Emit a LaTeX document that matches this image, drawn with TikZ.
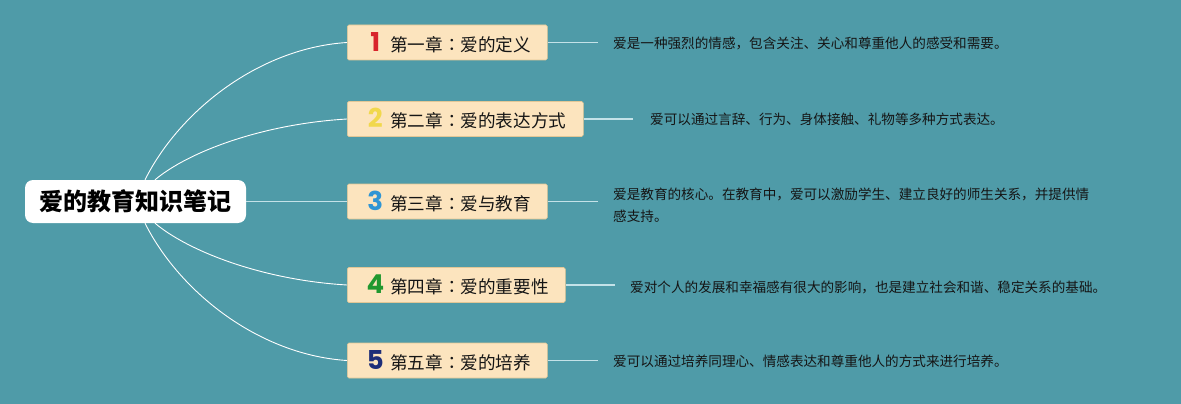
\documentclass[tikz,border=0pt]{standalone}
\usepackage{fontspec}
\setmainfont{Noto Sans CJK SC}
\newfontfamily\tcfont{Noto Sans CJK TC}
\newfontfamily\numfont{Poppins}
\definecolor{bg}{HTML}{4F9BA8}
\definecolor{boxfill}{HTML}{FCE4BE}
\definecolor{boxdraw}{HTML}{E2C796}
\definecolor{linkc}{HTML}{C4E2E8}
\definecolor{txt}{HTML}{151515}
\definecolor{n1}{HTML}{D8232A}
\definecolor{n2}{HTML}{F1D84C}
\definecolor{n3}{HTML}{2F95D4}
\definecolor{n4}{HTML}{21982F}
\definecolor{n5}{HTML}{1E2E78}
\newcommand{\chapnum}[2]{\hspace*{19pt}\makebox[18pt][c]{\numfont\bfseries\fontsize{26}{26}\selectfont\color{#1}#2}\hspace{6pt}}
\newcommand{\ccolon}{{\tcfont ：}}
\begin{document}
\begin{tikzpicture}[x=1pt,y=-1pt,
  rootbox/.style={fill=white, rounded corners=8pt, minimum width=221pt, minimum height=43pt, inner sep=0pt, text=black, font=\bfseries\fontsize{24}{28}\selectfont},
  chapbox/.style={fill=boxfill, draw=boxdraw, line width=0.6pt, rounded corners=1.5pt, minimum height=35pt, inner xsep=0pt, inner ysep=0pt, anchor=west, align=left, text=txt, font=\fontsize{17.6}{20}\selectfont},
  desc/.style={anchor=west, inner sep=0pt, align=left, text=txt, font=\fontsize{13.6}{22}\selectfont},
  branch/.style={draw=white, line width=0.9pt},
  link/.style={draw=linkc, line width=1.6pt}]
\useasboundingbox[fill=bg] (0,0) rectangle (1181,404);

\node[rootbox] (root) at (135.5,201.5) {爱的教育知识笔记};

\node[chapbox, text width=200pt] (c1) at (347,42.5) {\chapnum{n1}{1}第一章\ccolon 爱的定义};
\node[chapbox, text width=236pt] (c2) at (347,119) {\chapnum{n2}{2}第二章\ccolon 爱的表达方式};
\node[chapbox, text width=200pt] (c3) at (347,201.5) {\chapnum{n3}{3}第三章\ccolon 爱与教育};
\node[chapbox, text width=218pt] (c4) at (347,285) {\chapnum{n4}{4}第四章\ccolon 爱的重要性};
\node[chapbox, text width=200pt] (c5) at (347,360.5) {\chapnum{n5}{5}第五章\ccolon 爱的培养};

\coordinate (e1) at (598,42.5);
\coordinate (e2) at (633,119);
\coordinate (e3) at (598,201.5);
\coordinate (e4) at (615,285);
\coordinate (e5) at (598,360.5);

\node[desc] (d1) at (613,43) {爱是一种强烈的情感，包含关注、关心和尊重他人的感受和需要。};
\node[desc] (d2) at (650,119.5) {爱可以通过言辞、行为、身体接触、礼物等多种方式表达。};
\node[desc] (d3) at (613,205) {爱是教育的核心。在教育中，爱可以激励学生、建立良好的师生关系，并提供情\\感支持。};
\node[desc] (d4) at (630,287) {爱对个人的发展和幸福感有很大的影响，也是建立社会和谐、稳定关系的基础。};
\node[desc] (d5) at (613,361) {爱可以通过培养同理心、情感表达和尊重他人的方式来进行培养。};

\draw[link, line width=1.3pt] (root.east) -- (c3.west);
\draw[branch] ([xshift=9.5pt]root.north) .. controls (180,110) and (260,48) .. (c1.west);
\draw[branch] ([xshift=19.5pt]root.north) .. controls (188,152) and (262,124) .. (c2.west);
\draw[branch] ([xshift=19.5pt]root.south) .. controls (188,251) and (262,280) .. (c4.west);
\draw[branch] ([xshift=9.5pt]root.south) .. controls (180,293) and (260,355) .. (c5.west);

\draw[link] (c1.east) -- (e1);
\draw[link] (c2.east) -- (e2);
\draw[link] (c3.east) -- (e3);
\draw[link] (c4.east) -- (e4);
\draw[link] (c5.east) -- (e5);
\end{tikzpicture}
\end{document}
